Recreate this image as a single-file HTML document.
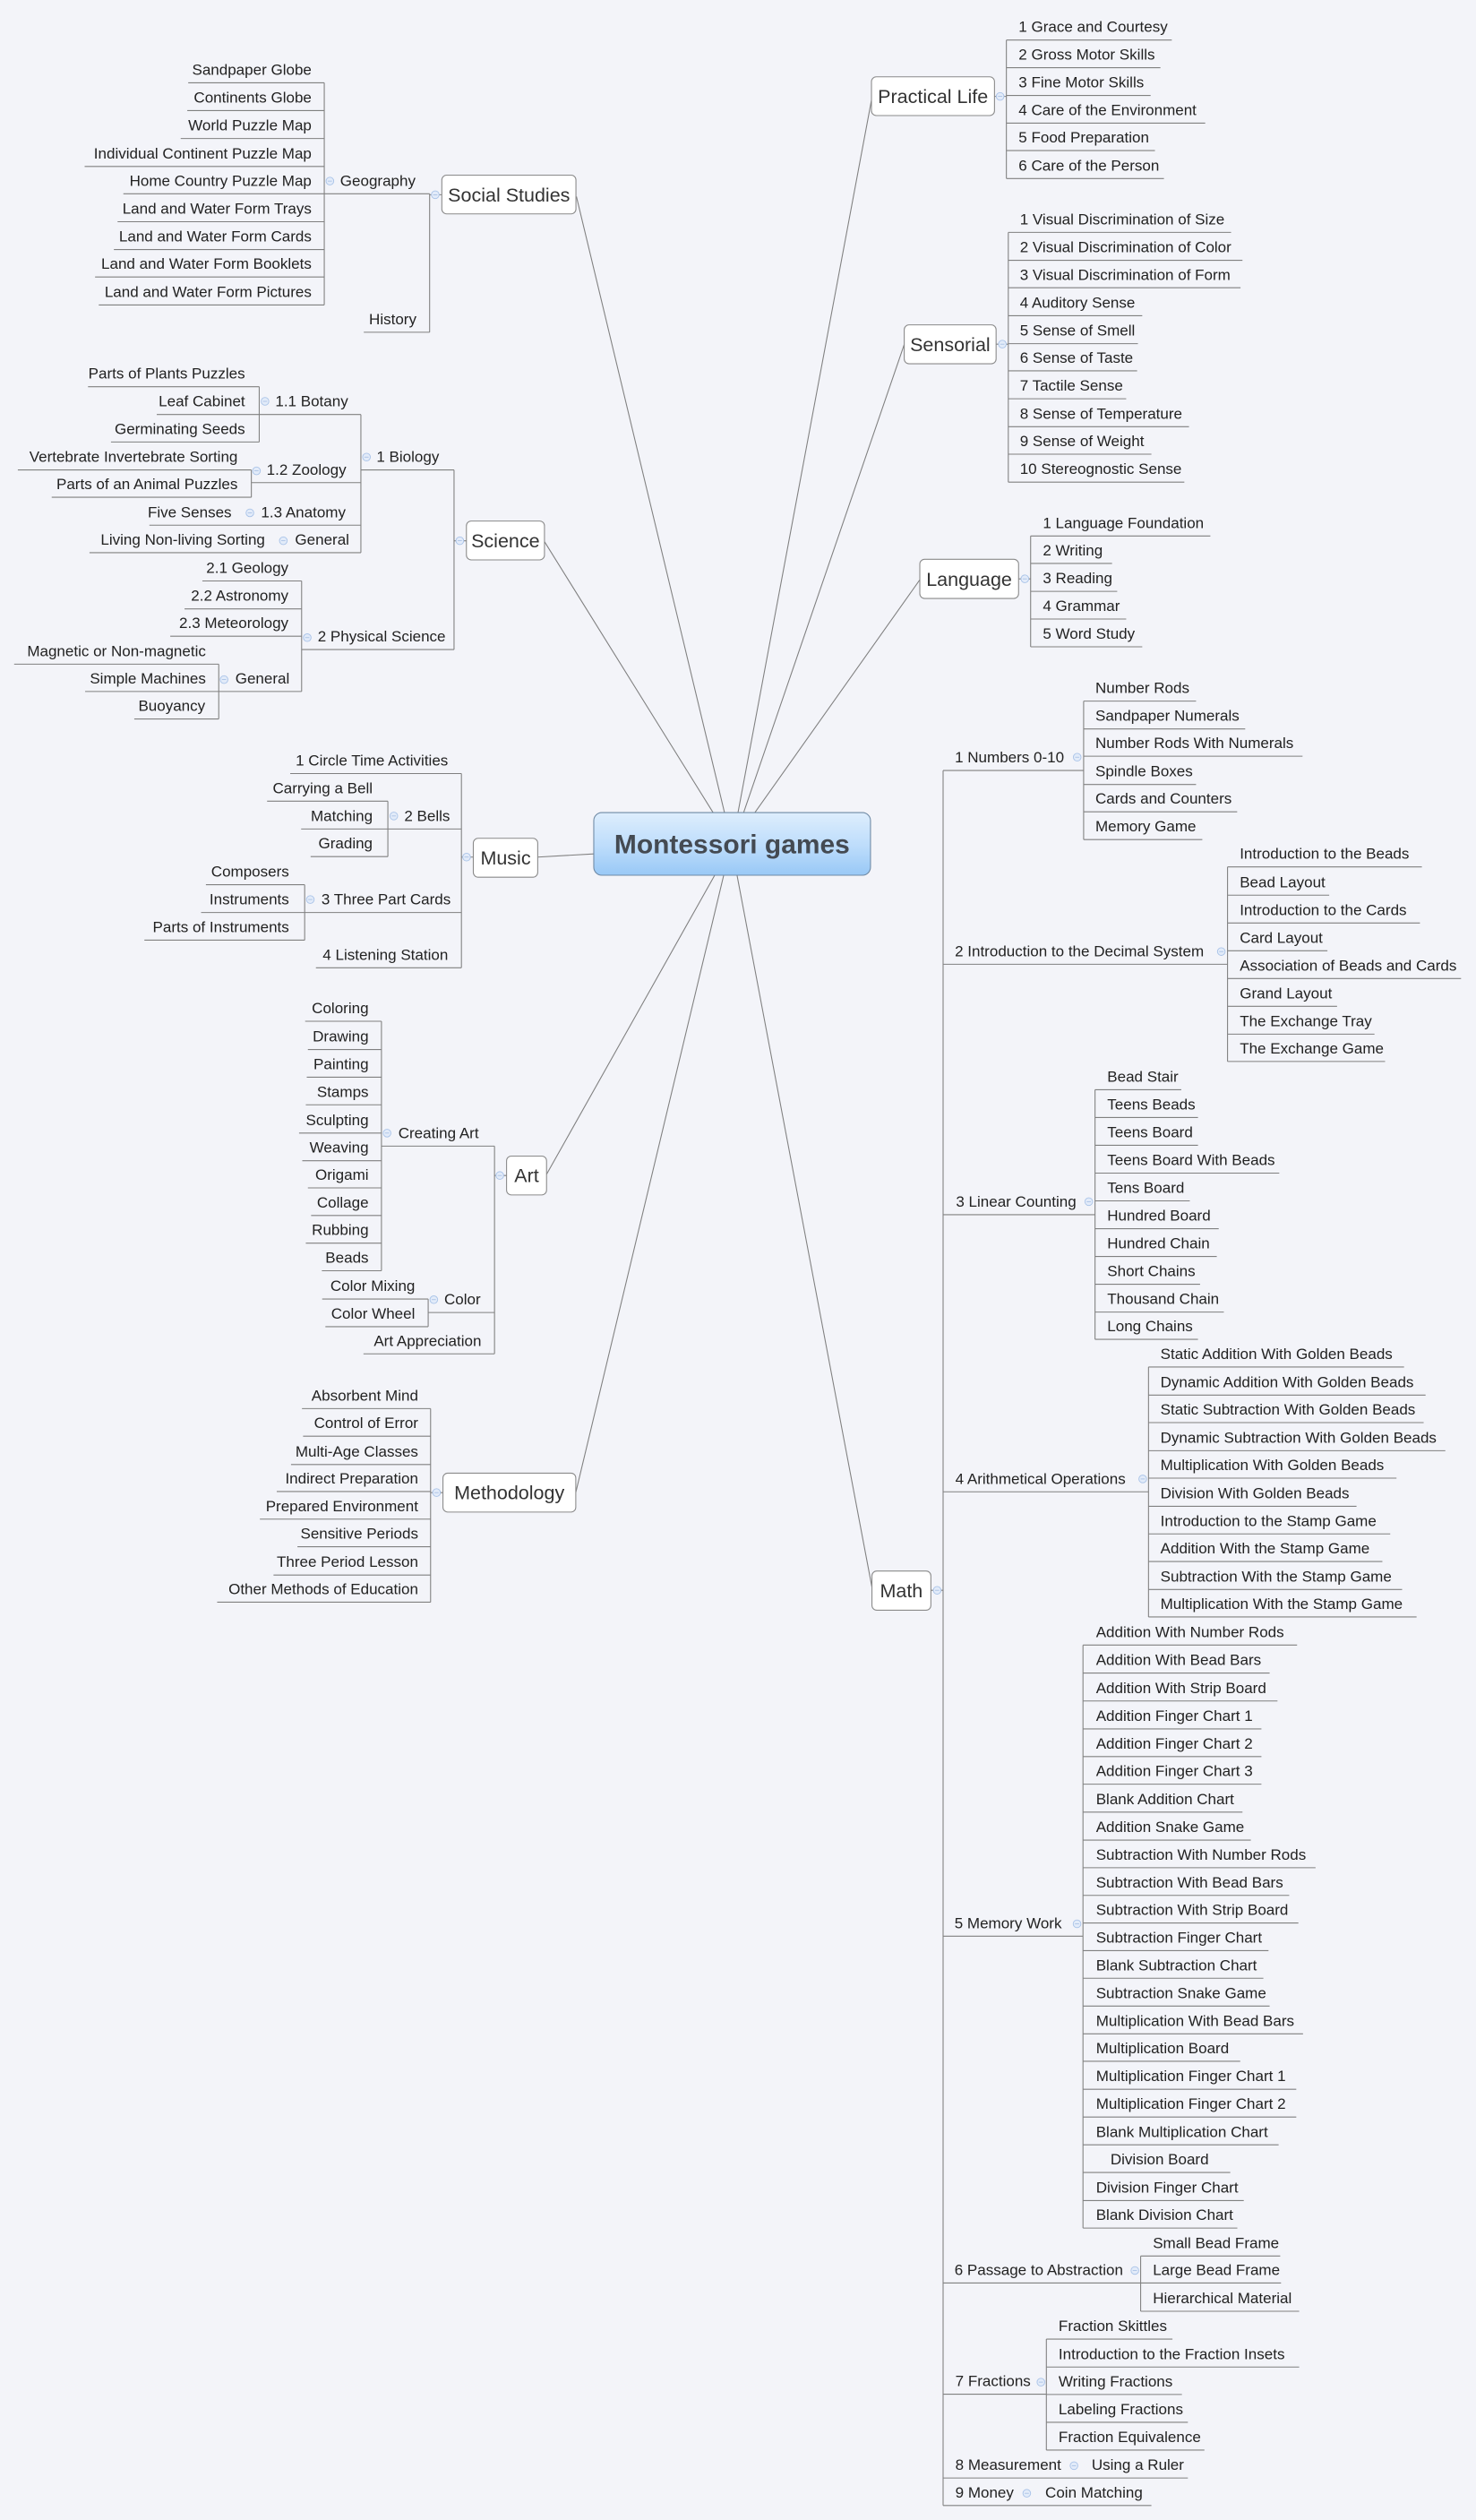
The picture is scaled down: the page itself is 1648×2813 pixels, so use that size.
<!DOCTYPE html>
<html><head><meta charset="utf-8"><style>
html,body{margin:0;padding:0;background:#f3f4f9;}
svg{display:block;}
text{font-family:"Liberation Sans",Arial,sans-serif;font-size:9.5px;fill:#222;}
.l{text-anchor:end;}
.t{font-size:12px;fill:#333;text-anchor:middle;}
.ln{fill:none;stroke:#808080;stroke-width:0.6;}
.bx{fill:#fff;stroke:#8a8a8a;stroke-width:0.6;}
</style></head><body>
<svg width="1648" height="2813" viewBox="0 0 919 1568.6" xmlns="http://www.w3.org/2000/svg">
<defs>
<linearGradient id="g" x1="0" y1="0" x2="0" y2="1"><stop offset="0" stop-color="#deeefd"/><stop offset="0.55" stop-color="#bcdcfb"/><stop offset="1" stop-color="#98c8f6"/></linearGradient>
<g id="c"><circle r="2.4" fill="#e2ebf9" stroke="#a9c3e8" stroke-width="0.5"/><path d="M-1.3 0H1.3" stroke="#9db8e0" stroke-width="0.4"/></g>
</defs>
<rect width="919" height="1568.6" fill="#f3f4f9"/>

<!-- central connectors -->
<path class="ln" d="M358.9 122.3L451.1 505.8 M339 337.1L444 505.8 M542.6 62.3L459.5 505.8 M563 214.4L463 505.8 M572.7 360.9L470 505.8 M334.8 533.5L369.7 531.5 M340.3 731L445 544.8 M358.5 929L450.6 544.8 M542.9 988L458.9 544.8"/>

<!-- central -->
<rect x="369.7" y="505.8" width="172.3" height="39" rx="5" fill="url(#g)" stroke="#6f8aa5" stroke-width="0.6"/>
<text x="455.8" y="531" style="font-size:16.7px;font-weight:bold;fill:#444a52;text-anchor:middle">Montessori games</text>

<!-- ===== Social Studies ===== -->
<path class="ln" d="M201.9 51.5V189.8 M117.2 51.5H201.9 M116.6 68.8H201.9 M112.5 86.2H201.9 M52.7 103.6H201.9 M76.8 120.6H201.9 M73.2 138H201.9 M70.9 155.3H201.9 M59.2 172.4H201.9 M61.5 189.8H201.9 M201.9 120.6H267.5 M226.5 206.8H267.5 M267.5 120.6V206.8 M267.5 121.2H275"/>
<text class="l" x="194" y="46.5">Sandpaper Globe</text>
<text class="l" x="194" y="63.8">Continents Globe</text>
<text class="l" x="194" y="81.2">World Puzzle Map</text>
<text class="l" x="194" y="98.6">Individual Continent Puzzle Map</text>
<text class="l" x="194" y="115.6">Home Country Puzzle Map</text>
<text class="l" x="194" y="133">Land and Water Form Trays</text>
<text class="l" x="194" y="150.3">Land and Water Form Cards</text>
<text class="l" x="194" y="167.4">Land and Water Form Booklets</text>
<text class="l" x="194" y="184.8">Land and Water Form Pictures</text>
<use href="#c" x="205.4" y="112.7"/><text x="211.8" y="115.6">Geography</text>
<text class="l" x="259.3" y="201.8">History</text>
<use href="#c" x="271" y="121.2"/>
<rect class="bx" x="275.1" y="109" width="83.5" height="24.1" rx="3"/>
<text class="t" x="316.9" y="125.4">Social Studies</text>

<!-- ===== Science ===== -->
<path class="ln" d="M161.4 240.7V275.1 M54.8 240.7H161.4 M97.6 258H161.4 M69.1 275.1H161.4 M161.4 258H224.7
M156.5 292.5V309.5 M11.1 292.5H156.5 M32.2 309.5H156.5 M156.5 300.4H224.7
M93 326.9H224.7 M55.7 344H224.7 M224.7 258V344 M224.7 292.5H282.7
M187.8 361.6V430.4 M126 361.6H187.8 M114.9 379H187.8 M106 396H187.8
M136.2 413.4V447.5 M8.8 413.4H136.2 M53 430.4H136.2 M83.6 447.5H136.2 M136.2 430.4H187.8 M187.8 404.3H282.7
M282.7 292.5V404.3 M282.7 336.6H290.4"/>
<text class="l" x="152.6" y="235.7">Parts of Plants Puzzles</text>
<text class="l" x="152.6" y="253">Leaf Cabinet</text>
<text class="l" x="152.6" y="270.1">Germinating Seeds</text>
<use href="#c" x="165" y="249.8"/><text x="171.4" y="253">1.1 Botany</text>
<text class="l" x="148" y="287.5">Vertebrate Invertebrate Sorting</text>
<text class="l" x="148" y="304.5">Parts of an Animal Puzzles</text>
<use href="#c" x="159.7" y="293.1"/><text x="166" y="295.4">1.2 Zoology</text>
<text class="l" x="144.2" y="322">Five Senses</text>
<use href="#c" x="155.6" y="319.2"/><text x="162.5" y="322">1.3 Anatomy</text>
<text class="l" x="165" y="339">Living Non-living Sorting</text>
<use href="#c" x="176.4" y="336.6"/><text x="183.7" y="339">General</text>
<use href="#c" x="228.2" y="284.5"/><text x="234.4" y="287.5">1 Biology</text>
<text class="l" x="179.6" y="356.6">2.1 Geology</text>
<text class="l" x="179.6" y="374">2.2 Astronomy</text>
<text class="l" x="179.6" y="391">2.3 Meteorology</text>
<text class="l" x="128.2" y="408.4">Magnetic or Non-magnetic</text>
<text class="l" x="128.2" y="425.4">Simple Machines</text>
<text class="l" x="127.8" y="442.5">Buoyancy</text>
<use href="#c" x="139.5" y="423"/><text x="146.5" y="425.4">General</text>
<use href="#c" x="191.3" y="396.9"/><text x="197.8" y="399.3">2 Physical Science</text>
<use href="#c" x="286.3" y="336.6"/>
<rect class="bx" x="290.4" y="324.3" width="48.6" height="24.2" rx="3"/>
<text class="t" x="314.7" y="340.6">Science</text>

<!-- ===== Music ===== -->
<path class="ln" d="M180.7 481.5H287.3 M241.5 498.7V533.2 M166.3 498.7H241.5 M187.5 516H287.3 M193.4 533.2H241.5
M189.7 550.7V585.2 M128.2 550.7H189.7 M125.2 568H287.3 M89.9 585.2H189.7 M196.7 602.4H287.3 M287.3 481.5V602.4 M287.3 533.5H294.7"/>
<text class="l" x="279" y="476.5">1 Circle Time Activities</text>
<text class="l" x="232" y="493.7">Carrying a Bell</text>
<text class="l" x="232" y="511">Matching</text>
<text class="l" x="232" y="528.2">Grading</text>
<use href="#c" x="245.2" y="507.9"/><text x="251.7" y="511">2 Bells</text>
<text class="l" x="180" y="545.7">Composers</text>
<text class="l" x="180" y="563">Instruments</text>
<text class="l" x="180" y="580.2">Parts of Instruments</text>
<use href="#c" x="193.2" y="559.9"/><text x="200.1" y="563">3 Three Part Cards</text>
<text class="l" x="279" y="597.4">4 Listening Station</text>
<use href="#c" x="290.5" y="533.5"/>
<rect class="bx" x="294.7" y="521.8" width="40.1" height="24.2" rx="3"/>
<text class="t" x="314.8" y="538.1">Music</text>

<!-- ===== Art ===== -->
<path class="ln" d="M237.5 635.7V791 M190 635.7H237.5 M191.7 653.3H237.5 M191 670.5H237.5 M190.4 687.7H237.5 M186.2 705.3H237.5 M188.2 722.5H237.5 M191.7 739.4H237.5 M193.7 756.6H237.5 M190.4 773.8H237.5 M200.4 791H237.5 M237.5 713.4H307.9
M266.6 808.6V825.8 M200.6 808.6H266.6 M202.6 825.8H266.6 M266.6 817H307.9 M226.3 842.7H307.9 M307.9 713.4V842.7 M307.9 731.7H315.4"/>
<text class="l" x="229.5" y="630.7">Coloring</text>
<text class="l" x="229.5" y="648.3">Drawing</text>
<text class="l" x="229.5" y="665.5">Painting</text>
<text class="l" x="229.5" y="682.7">Stamps</text>
<text class="l" x="229.5" y="700.3">Sculpting</text>
<text class="l" x="229.5" y="717.5">Weaving</text>
<text class="l" x="229.5" y="734.4">Origami</text>
<text class="l" x="229.5" y="751.6">Collage</text>
<text class="l" x="229.5" y="768.8">Rubbing</text>
<text class="l" x="229.5" y="786">Beads</text>
<use href="#c" x="241" y="705.3"/><text x="248" y="708.4">Creating Art</text>
<text class="l" x="258.4" y="803.6">Color Mixing</text>
<text class="l" x="258.4" y="820.8">Color Wheel</text>
<use href="#c" x="270.1" y="809"/><text x="276.6" y="812">Color</text>
<text class="l" x="299.7" y="837.7">Art Appreciation</text>
<use href="#c" x="311.2" y="731.7"/>
<rect class="bx" x="315.4" y="719.6" width="24.9" height="24.2" rx="3"/>
<text class="t" x="327.9" y="735.9">Art</text>

<!-- ===== Methodology ===== -->
<path class="ln" d="M268.1 876.8V997.3 M188 876.8H268.1 M188.7 894H268.1 M181.2 911.6H268.1 M172.3 928.4H268.1 M161.8 945.6H268.1 M185.2 962.8H268.1 M170.3 980.4H268.1 M135.2 997.3H268.1 M268.1 929.1H275.8"/>
<text class="l" x="260.4" y="871.8">Absorbent Mind</text>
<text class="l" x="260.4" y="889">Control of Error</text>
<text class="l" x="260.4" y="906.6">Multi-Age Classes</text>
<text class="l" x="260.4" y="923.4">Indirect Preparation</text>
<text class="l" x="260.4" y="940.6">Prepared Environment</text>
<text class="l" x="260.4" y="957.8">Sensitive Periods</text>
<text class="l" x="260.4" y="975.4">Three Period Lesson</text>
<text class="l" x="260.4" y="992.3">Other Methods of Education</text>
<use href="#c" x="271.8" y="929.1"/>
<rect class="bx" x="275.8" y="917" width="82.7" height="24.2" rx="3"/>
<text class="t" x="317.1" y="933.3">Methodology</text>

<!-- ===== Practical Life ===== -->
<path class="ln" d="M619.2 60H626.6 M626.6 24.9V111.1 M626.6 24.9H729.6 M626.6 42.1H722.5 M626.6 59.4H716.4 M626.6 76.6H750.4 M626.6 93.7H719.1 M626.6 111.1H724.7"/>
<rect class="bx" x="542.6" y="47.8" width="76.6" height="24.1" rx="3"/>
<text class="t" x="580.9" y="64.2">Practical Life</text>
<use href="#c" x="622.7" y="60"/>
<text x="634.2" y="19.9">1 Grace and Courtesy</text>
<text x="634.2" y="37.1">2 Gross Motor Skills</text>
<text x="634.2" y="54.4">3 Fine Motor Skills</text>
<text x="634.2" y="71.6">4 Care of the Environment</text>
<text x="634.2" y="88.7">5 Food Preparation</text>
<text x="634.2" y="106.1">6 Care of the Person</text>

<!-- ===== Sensorial ===== -->
<path class="ln" d="M620.2 214.2H627.8 M627.8 144.6V300.1 M627.8 144.6H766.5 M627.8 162H773.6 M627.8 179.1H772.4 M627.8 196.5H711.2 M627.8 213.9H708.5 M627.8 230.8H708 M627.8 248.2H701.2 M627.8 265.6H740.3 M627.8 282.7H716.9 M627.8 300.1H737.4"/>
<rect class="bx" x="563" y="202.2" width="57.2" height="24.2" rx="3"/>
<text class="t" x="591.6" y="218.5">Sensorial</text>
<use href="#c" x="624.1" y="214.2"/>
<text x="635" y="139.6">1 Visual Discrimination of Size</text>
<text x="635" y="157">2 Visual Discrimination of Color</text>
<text x="635" y="174.1">3 Visual Discrimination of Form</text>
<text x="635" y="191.5">4 Auditory Sense</text>
<text x="635" y="208.9">5 Sense of Smell</text>
<text x="635" y="225.8">6 Sense of Taste</text>
<text x="635" y="243.2">7 Tactile Sense</text>
<text x="635" y="260.6">8 Sense of Temperature</text>
<text x="635" y="277.7">9 Sense of Weight</text>
<text x="635" y="295.1">10 Stereognostic Sense</text>

<!-- ===== Language ===== -->
<path class="ln" d="M634.2 360.3H641.7 M641.7 333.6V402.6 M641.7 333.6H753.6 M641.7 350.7H692.4 M641.7 368.1H695.6 M641.7 385.3H701.2 M641.7 402.6H711.2"/>
<rect class="bx" x="572.7" y="348.1" width="61.5" height="24.4" rx="3"/>
<text class="t" x="603.4" y="364.6">Language</text>
<use href="#c" x="638.1" y="360.3"/>
<text x="649.3" y="328.6">1 Language Foundation</text>
<text x="649.3" y="345.7">2 Writing</text>
<text x="649.3" y="363.1">3 Reading</text>
<text x="649.3" y="380.3">4 Grammar</text>
<text x="649.3" y="397.6">5 Word Study</text>

<!-- ===== Math ===== -->
<path class="ln" d="M579.6 989.9H587.2 M587.2 479.6V1559.6
M587.2 479.6H674.7 M674.7 436.4V522.6 M674.7 436.4H744.7 M674.7 453.7H775.3 M674.7 470.7H811 M674.7 488.3H744.7 M674.7 505.3H770.3 M674.7 522.6H748.6
M587.2 600.2H764.3 M764.3 539.6V660.7 M764.3 539.6H885.3 M764.3 557.2H827.6 M764.3 574.5H884.1 M764.3 591.8H826.5 M764.3 609.1H909.7 M764.3 626.4H832.5 M764.3 643.7H855.8 M764.3 660.7H862.4
M587.2 756.1H681.8 M681.8 678.3V833.7 M681.8 678.3H735.5 M681.8 695.6H745.9 M681.8 712.9H745.9 M681.8 730.2H796.5 M681.8 747.5H740.8 M681.8 764.8H758.8 M681.8 782.1H757.6 M681.8 799.4H747.2 M681.8 816.7H762 M681.8 833.7H745.9
M587.2 928.6H715.1 M715.1 850.9V1006.5 M715.1 850.9H874.2 M715.1 868.4H887.6 M715.1 885.5H886.4 M715.1 903H899.9 M715.1 920.1H869.5 M715.1 937.6H844.6 M715.1 954.8H865.6 M715.1 972H860.7 M715.1 989.4H873 M715.1 1006.5H882
M587.2 1205.2H674.3 M674.3 1024V1386.9 M674.3 1024H807.6 M674.3 1041.4H790.5 M674.3 1058.8H795.4 M674.3 1076.2H785.4 M674.3 1093.4H785.4 M674.3 1110.6H785.4 M674.3 1128H773.6 M674.3 1145.4H778.8 M674.3 1162.6H819.1 M674.3 1179.8H802.7 M674.3 1197H808.4 M674.3 1214.2H789.8 M674.3 1231.4H786.6 M674.3 1248.7H790.5 M674.3 1266H811.3 M674.3 1283.1H772.2 M674.3 1300.5H807.1 M674.3 1317.8H807.1 M674.3 1335.1H796.1 M674.3 1352.3H766 M674.3 1369.8H774.4 M674.3 1386.9H770.4
M587.2 1421.1H710.2 M710.2 1404.3V1438.7 M710.2 1404.3H797.1 M710.2 1421.1H797.6 M710.2 1438.7H808.9
M587.2 1490.3H651.5 M651.5 1456V1525.1 M651.5 1456H730 M651.5 1473.4H808.9 M651.5 1490.5H735.9 M651.5 1507.8H739.6 M651.5 1525.1H749.9
M587.2 1542.5H739.6 M587.2 1559.6H716.9"/>
<rect class="bx" x="542.9" y="977.9" width="36.7" height="24.4" rx="3"/>
<text class="t" x="561.2" y="994.3">Math</text>
<use href="#c" x="583.5" y="989.9"/>

<use href="#c" x="670.7" y="471.3"/><text x="594.5" y="474.6">1 Numbers 0-10</text>
<text x="682" y="431.4">Number Rods</text>
<text x="682" y="448.7">Sandpaper Numerals</text>
<text x="682" y="465.7">Number Rods With Numerals</text>
<text x="682" y="483.3">Spindle Boxes</text>
<text x="682" y="500.3">Cards and Counters</text>
<text x="682" y="517.6">Memory Game</text>

<use href="#c" x="760.4" y="592.3"/><text x="594.5" y="595.2">2 Introduction to the Decimal System</text>
<text x="771.9" y="534.6">Introduction to the Beads</text>
<text x="771.9" y="552.2">Bead Layout</text>
<text x="771.9" y="569.5">Introduction to the Cards</text>
<text x="771.9" y="586.8">Card Layout</text>
<text x="771.9" y="604.1">Association of Beads and Cards</text>
<text x="771.9" y="621.4">Grand Layout</text>
<text x="771.9" y="638.7">The Exchange Tray</text>
<text x="771.9" y="655.7">The Exchange Game</text>

<use href="#c" x="677.9" y="748"/><text x="595.2" y="751.1">3 Linear Counting</text>
<text x="689.4" y="673.3">Bead Stair</text>
<text x="689.4" y="690.6">Teens Beads</text>
<text x="689.4" y="707.9">Teens Board</text>
<text x="689.4" y="725.2">Teens Board With Beads</text>
<text x="689.4" y="742.5">Tens Board</text>
<text x="689.4" y="759.8">Hundred Board</text>
<text x="689.4" y="777.1">Hundred Chain</text>
<text x="689.4" y="794.4">Short Chains</text>
<text x="689.4" y="811.7">Thousand Chain</text>
<text x="689.4" y="828.7">Long Chains</text>

<use href="#c" x="711.5" y="920.6"/><text x="594.8" y="923.6">4 Arithmetical Operations</text>
<text x="722.5" y="845.9">Static Addition With Golden Beads</text>
<text x="722.5" y="863.4">Dynamic Addition With Golden Beads</text>
<text x="722.5" y="880.5">Static Subtraction With Golden Beads</text>
<text x="722.5" y="898">Dynamic Subtraction With Golden Beads</text>
<text x="722.5" y="915.1">Multiplication With Golden Beads</text>
<text x="722.5" y="932.6">Division With Golden Beads</text>
<text x="722.5" y="949.8">Introduction to the Stamp Game</text>
<text x="722.5" y="967">Addition With the Stamp Game</text>
<text x="722.5" y="984.4">Subtraction With the Stamp Game</text>
<text x="722.5" y="1001.5">Multiplication With the Stamp Game</text>

<use href="#c" x="670.6" y="1197.5"/><text x="594.3" y="1200.2">5 Memory Work</text>
<text x="682.4" y="1019">Addition With Number Rods</text>
<text x="682.4" y="1036.4">Addition With Bead Bars</text>
<text x="682.4" y="1053.8">Addition With Strip Board</text>
<text x="682.4" y="1071.2">Addition Finger Chart 1</text>
<text x="682.4" y="1088.4">Addition Finger Chart 2</text>
<text x="682.4" y="1105.6">Addition Finger Chart 3</text>
<text x="682.4" y="1123">Blank Addition Chart</text>
<text x="682.4" y="1140.4">Addition Snake Game</text>
<text x="682.4" y="1157.6">Subtraction With Number Rods</text>
<text x="682.4" y="1174.8">Subtraction With Bead Bars</text>
<text x="682.4" y="1192">Subtraction With Strip Board</text>
<text x="682.4" y="1209.2">Subtraction Finger Chart</text>
<text x="682.4" y="1226.4">Blank Subtraction Chart</text>
<text x="682.4" y="1243.7">Subtraction Snake Game</text>
<text x="682.4" y="1261">Multiplication With Bead Bars</text>
<text x="682.4" y="1278.1">Multiplication Board</text>
<text x="682.4" y="1295.5">Multiplication Finger Chart 1</text>
<text x="682.4" y="1312.8">Multiplication Finger Chart 2</text>
<text x="682.4" y="1330.1">Blank Multiplication Chart</text>
<text x="691.4" y="1347.3">Division Board</text>
<text x="682.4" y="1364.8">Division Finger Chart</text>
<text x="682.4" y="1381.9">Blank Division Chart</text>

<use href="#c" x="706.6" y="1413.3"/><text x="594.3" y="1416.1">6 Passage to Abstraction</text>
<text x="717.8" y="1399.3">Small Bead Frame</text>
<text x="717.8" y="1416.1">Large Bead Frame</text>
<text x="717.8" y="1433.7">Hierarchical Material</text>

<use href="#c" x="648.1" y="1482.8"/><text x="594.8" y="1485.3">7 Fractions</text>
<text x="659.1" y="1451">Fraction Skittles</text>
<text x="659.1" y="1468.4">Introduction to the Fraction Insets</text>
<text x="659.1" y="1485.5">Writing Fractions</text>
<text x="659.1" y="1502.8">Labeling Fractions</text>
<text x="659.1" y="1520.1">Fraction Equivalence</text>

<use href="#c" x="668.7" y="1534.8"/><text x="594.8" y="1537.5">8 Measurement</text>
<text x="679.7" y="1537.5">Using a Ruler</text>
<use href="#c" x="639.3" y="1552"/><text x="594.8" y="1554.6">9 Money</text>
<text x="650.8" y="1554.6">Coin Matching</text>
</svg>
</body></html>
